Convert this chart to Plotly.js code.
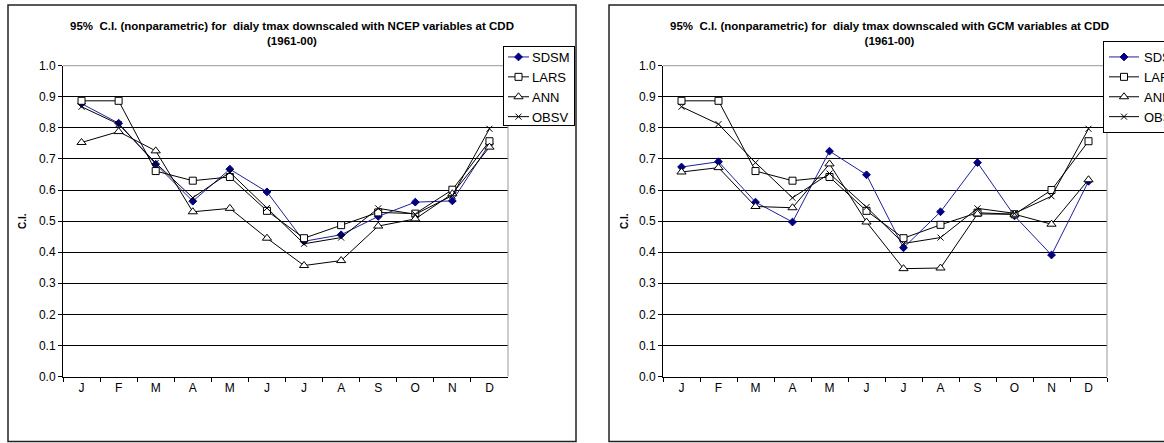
<!DOCTYPE html>
<html>
<head>
<meta charset="utf-8">
<script src="https://cdn.plot.ly/plotly-3.0.1.min.js"></script>
<style>html,body{margin:0;padding:0;background:#fff;}#chart{width:1164px;height:443px;}</style>
</head>
<body>
<div id="chart"></div>
<script>
// ---- data ----
const months = ['Jan','Feb','Mar','Apr','May','Jun','Jul','Aug','Sep','Oct','Nov','Dec'];
const monthLabels = ['J','F','M','A','M','J','J','A','S','O','N','D'];
const seriesNames = ['SDSM','LARS','ANN','OBSV'];

// NCEP-downscaled (left chart)
const ncepSDSM = [0.878,0.815,0.683,0.564,0.667,0.594,0.435,0.456,0.515,0.561,0.565,0.748];
const ncepLARS = [0.887,0.887,0.661,0.630,0.642,0.533,0.445,0.487,0.528,0.524,0.601,0.757];
const ncepANN  = [0.753,0.788,0.726,0.530,0.541,0.445,0.357,0.373,0.484,0.507,0.588,0.738];
const ncepOBSV = [0.868,0.812,0.687,0.575,0.657,0.542,0.427,0.447,0.541,0.522,0.582,0.797];

// GCM-downscaled (right chart)
const gcmSDSM = [0.674,0.691,0.561,0.497,0.725,0.649,0.414,0.530,0.688,0.517,0.391,0.628];
const gcmLARS = [0.887,0.887,0.661,0.630,0.642,0.533,0.445,0.488,0.527,0.522,0.600,0.757];
const gcmANN  = [0.658,0.672,0.547,0.543,0.684,0.497,0.347,0.349,0.523,0.522,0.490,0.633];
const gcmOBSV = [0.868,0.812,0.688,0.575,0.653,0.545,0.428,0.447,0.541,0.525,0.580,0.797];

const titleLeft = '95%\u00a0 C.I. (nonparametric) for\u00a0 dialy tmax downscaled with NCEP variables at CDD<br>(1961-00)';
const titleRight = '95%\u00a0 C.I. (nonparametric) for\u00a0 dialy tmax downscaled with GCM variables at CDD<br>(1961-00)';
const yTitle = 'C.I.';

// ---- styles ----
const FONT = 'Arial, "Liberation Sans", sans-serif';
const W = 1164, H = 443;
const styles = [
  {line:{color:'#1f1f99',width:1}, marker:{symbol:'diamond',size:6,color:'#000080',line:{color:'#000080',width:1}}},
  {line:{color:'#000',width:1}, marker:{symbol:'square',size:7,color:'#fff',line:{color:'#000',width:1}}},
  {line:{color:'#000',width:1}, marker:{symbol:'triangle-up',size:8,color:'#fff',line:{color:'#000',width:1}}},
  {line:{color:'#000',width:1}, marker:{symbol:'x-thin',size:6,color:'#000',line:{color:'#000',width:1}}}
];

function makeTraces(vals, xa, ya, legend) {
  return vals.map((v, i) => ({
    type:'scatter', mode:'lines+markers', name: seriesNames[i],
    x: months, y: v, xaxis: xa, yaxis: ya, legend: legend,
    line: styles[i].line, marker: styles[i].marker, cliponaxis:false
  }));
}

const traces = [
  ...makeTraces([ncepSDSM, ncepLARS, ncepANN, ncepOBSV], 'x', 'y', 'legend'),
  ...makeTraces([gcmSDSM, gcmLARS, gcmANN, gcmOBSV], 'x2', 'y2', 'legend2')
];

const yDom = [(H-376.5)/H, (H-65.7)/H];
function xAx(dom, anchor) {
  return {
    domain: dom, anchor: anchor, type:'category', categoryorder:'array', categoryarray: months,
    tickmode:'array', tickvals: months, ticktext: monthLabels,
    tickson:'boundaries', ticks:'outside', ticklen:4, tickcolor:'#000', tickwidth:1,
    showline:true, linecolor:'#000', linewidth:1, showgrid:false, zeroline:false,
    range:[-0.5, 11.5], tickfont:{family:FONT, size:12, color:'#000'}, fixedrange:true
  };
}
function yAx(anchor) {
  return {
    domain: yDom, anchor: anchor, range:[0,1], dtick:0.1, tick0:0, tickformat:'.1f',
    ticks:'outside', ticklen:4, tickcolor:'#000', showline:true, linecolor:'#000', linewidth:1,
    showgrid:true, gridcolor:'#000', gridwidth:1, zeroline:false,
    tickfont:{family:FONT, size:12, color:'#000'}, fixedrange:true
  };
}
function legendCfg(xpx) {
  return {
    x: xpx/W, y: 1-41/H, xanchor:'left', yanchor:'top',
    bgcolor:'#fff', bordercolor:'#000', borderwidth:1,
    font:{family:FONT, size:13, color:'#000'}, itemwidth:30, tracegroupgap:0
  };
}

const layout = {
  width: W, height: H, margin:{l:0,r:0,t:0,b:0, autoexpand:false},
  paper_bgcolor:'#fff', plot_bgcolor:'#fff', showlegend:true,
  xaxis: xAx([63/W, 508/W], 'y'),
  yaxis: yAx('x'),
  xaxis2: xAx([663/W, 1107/W], 'y2'),
  yaxis2: yAx('x2'),
  legend: legendCfg(503),
  legend2: legendCfg(1103),
  shapes: [
    {type:'rect', xref:'paper', yref:'paper', x0:8/W, x1:576/W, y0:1.5/H, y1:1-5/H, line:{color:'#222',width:1.5}, layer:'below'},
    {type:'rect', xref:'paper', yref:'paper', x0:609/W, x1:1.05, y0:1.5/H, y1:1-5/H, line:{color:'#222',width:1.5}, layer:'below'},
    {type:'line', xref:'x domain', yref:'y domain', x0:0, x1:1, y0:1, y1:1, line:{color:'#999',width:1}, layer:'above'},
    {type:'line', xref:'x domain', yref:'y domain', x0:1, x1:1, y0:0, y1:1, line:{color:'#999',width:1}, layer:'above'},
    {type:'line', xref:'x2 domain', yref:'y2 domain', x0:0, x1:1, y0:1, y1:1, line:{color:'#999',width:1}, layer:'above'},
    {type:'line', xref:'x2 domain', yref:'y2 domain', x0:1, x1:1, y0:0, y1:1, line:{color:'#999',width:1}, layer:'above'}
  ],
  annotations: [
    {text:'<b>'+titleLeft+'</b>', xref:'paper', yref:'paper', x:292/W, y:1-33.5/H, xanchor:'center', yanchor:'middle', showarrow:false, font:{family:FONT, size:11.5, color:'#000'}},
    {text:'<b>'+titleRight+'</b>', xref:'paper', yref:'paper', x:889/W, y:1-33.5/H, xanchor:'center', yanchor:'middle', showarrow:false, font:{family:FONT, size:11.5, color:'#000'}},
    {text:'<b>'+yTitle+'</b>', xref:'paper', yref:'paper', x:22/W, y:1-221/H, xanchor:'center', yanchor:'middle', textangle:-90, showarrow:false, font:{family:FONT, size:10, color:'#000'}},
    {text:'<b>'+yTitle+'</b>', xref:'paper', yref:'paper', x:624/W, y:1-221/H, xanchor:'center', yanchor:'middle', textangle:-90, showarrow:false, font:{family:FONT, size:10, color:'#000'}}
  ]
};

Plotly.newPlot('chart', traces, layout, {staticPlot:true, displayModeBar:false}).then(() => {
  // Compact the legend symbols to the short Excel-style sample (line ~21px, text close by)
  document.querySelectorAll('g.legend').forEach(leg => {
    leg.querySelectorAll('g.traces').forEach(tr => {
      const txt = tr.querySelector('text.legendtext');
      if (txt) {
        const x = parseFloat(txt.getAttribute('x') || '40');
        txt.setAttribute('x', x - 12);
        txt.querySelectorAll('tspan').forEach(ts => {
          if (ts.getAttribute('x') !== null) ts.setAttribute('x', parseFloat(ts.getAttribute('x')) - 12);
        });
      }
      tr.querySelectorAll('g.legendlines path').forEach(p => p.setAttribute('d', 'M4,0h21'));
      tr.querySelectorAll('g.legendpoints path').forEach(p => p.setAttribute('transform', 'translate(14.5,0)'));
    });
    const bg = leg.querySelector('rect.bg');
    if (bg) {
      const w = parseFloat(bg.getAttribute('width'));
      const h = parseFloat(bg.getAttribute('height'));
      const y = parseFloat(bg.getAttribute('y') || '0');
      bg.setAttribute('width', w - 13);
      bg.setAttribute('y', y + 5);
      bg.setAttribute('height', h - 12);
    }
  });
});
</script>
</body>
</html>
